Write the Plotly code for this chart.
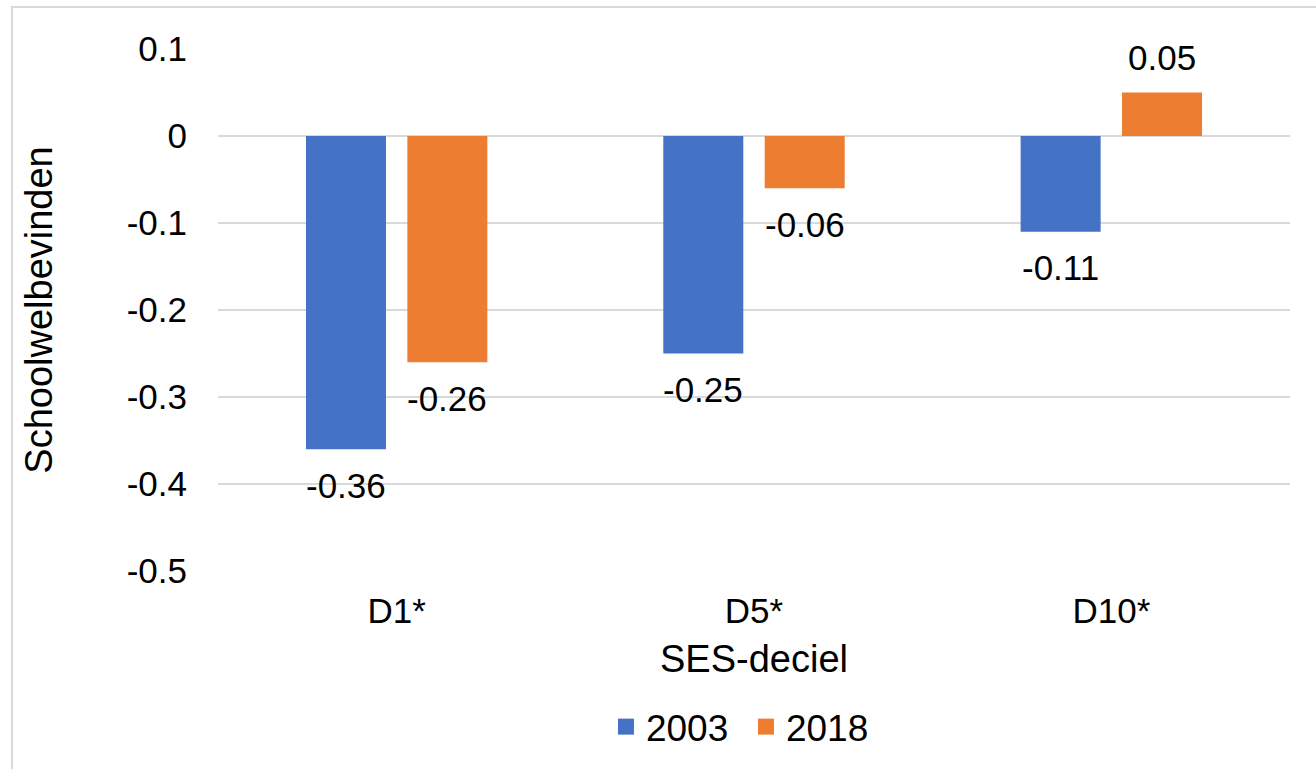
import plotly.graph_objects as go

categories = ["D1*", "D5*", "D10*"]
series_names = ["2003", "2018"]
values_2003 = [-0.36, -0.25, -0.11]
values_2018 = [-0.26, -0.06, 0.05]
label_2003 = ["-0.36", "-0.25", "-0.11"]
label_2018 = ["-0.26", "-0.06", "0.05"]
tick_vals = [0.1, 0, -0.1, -0.2, -0.3, -0.4, -0.5]
tick_text = ["0.1", "0", "-0.1", "-0.2", "-0.3", "-0.4", "-0.5"]

colors = ["#4472C4", "#ED7D31"]
FONT = "Liberation Sans, Arial, sans-serif"

fig = go.Figure()
all_vals = [values_2003, values_2018]
all_labels = [label_2003, label_2018]
for name, vals, col in zip(series_names, all_vals, colors):
    fig.add_trace(go.Bar(x=categories, y=vals, name=name, marker=dict(color=col, line=dict(width=0)),
                         showlegend=False))
    fig.add_trace(go.Scatter(x=[None], y=[None], mode="markers", name=name,
                             marker=dict(symbol="square", size=19, color=col), showlegend=True))

# data labels (outside end)
offsets = [-50.7, 50.7]
for vals, labs, dx in zip(all_vals, all_labels, offsets):
    for c, v, t in zip(categories, vals, labs):
        fig.add_annotation(x=c, y=v, text=t, showarrow=False, xshift=dx,
                           yshift=(-36 if v < 0 else 35), yanchor="middle", xanchor="center",
                           font=dict(family=FONT, size=35, color="#000000"))

# outer border
fig.add_shape(type="rect", xref="paper", yref="paper",
              x0=(12 - 218) / 1072, x1=(1330 - 218) / 1072,
              y0=(571 - 790) / 522, y1=(571 - 7) / 522,
              line=dict(color="#D9D9D9", width=2), fillcolor="rgba(0,0,0,0)", layer="below")

fig.update_layout(
    width=1316, height=769,
    margin=dict(l=218, r=26, t=49, b=198, autoexpand=False),
    paper_bgcolor="white", plot_bgcolor="white",
    barmode="group", bargap=0.4325, bargroupgap=0.211,
    font=dict(family=FONT, size=35, color="#000000"),
    legend=dict(orientation="h", x=0.4925, xanchor="center", y=-0.299, yanchor="middle",
                font=dict(family=FONT, size=37, color="#000000"), itemwidth=30,
                entrywidth=95, entrywidthmode="pixels",
                itemsizing="trace", bgcolor="rgba(0,0,0,0)"),
    xaxis=dict(showgrid=False, zeroline=False, showline=False, ticks="",
               tickfont=dict(family=FONT, size=35, color="#000000"), ticklabelstandoff=16,
               title=dict(text="SES-deciel", font=dict(family=FONT, size=38, color="#000000"), standoff=16)),
    yaxis=dict(range=[-0.5, 0.1], tickvals=tick_vals, ticktext=tick_text,
               showgrid=True, gridcolor="#D9D9D9", gridwidth=1.5,
               zeroline=True, zerolinecolor="#D9D9D9", zerolinewidth=1.5,
               showline=False, ticks="", ticklabelstandoff=30,
               tickfont=dict(family=FONT, size=35, color="#000000"),
               title=dict(text="Schoolwelbevinden", font=dict(family=FONT, size=38, color="#000000"), standoff=62)),
)

fig.write_html("out.html", config={"displayModeBar": False},
               post_script="document.body.style.margin='0';document.body.style.padding='0';")
